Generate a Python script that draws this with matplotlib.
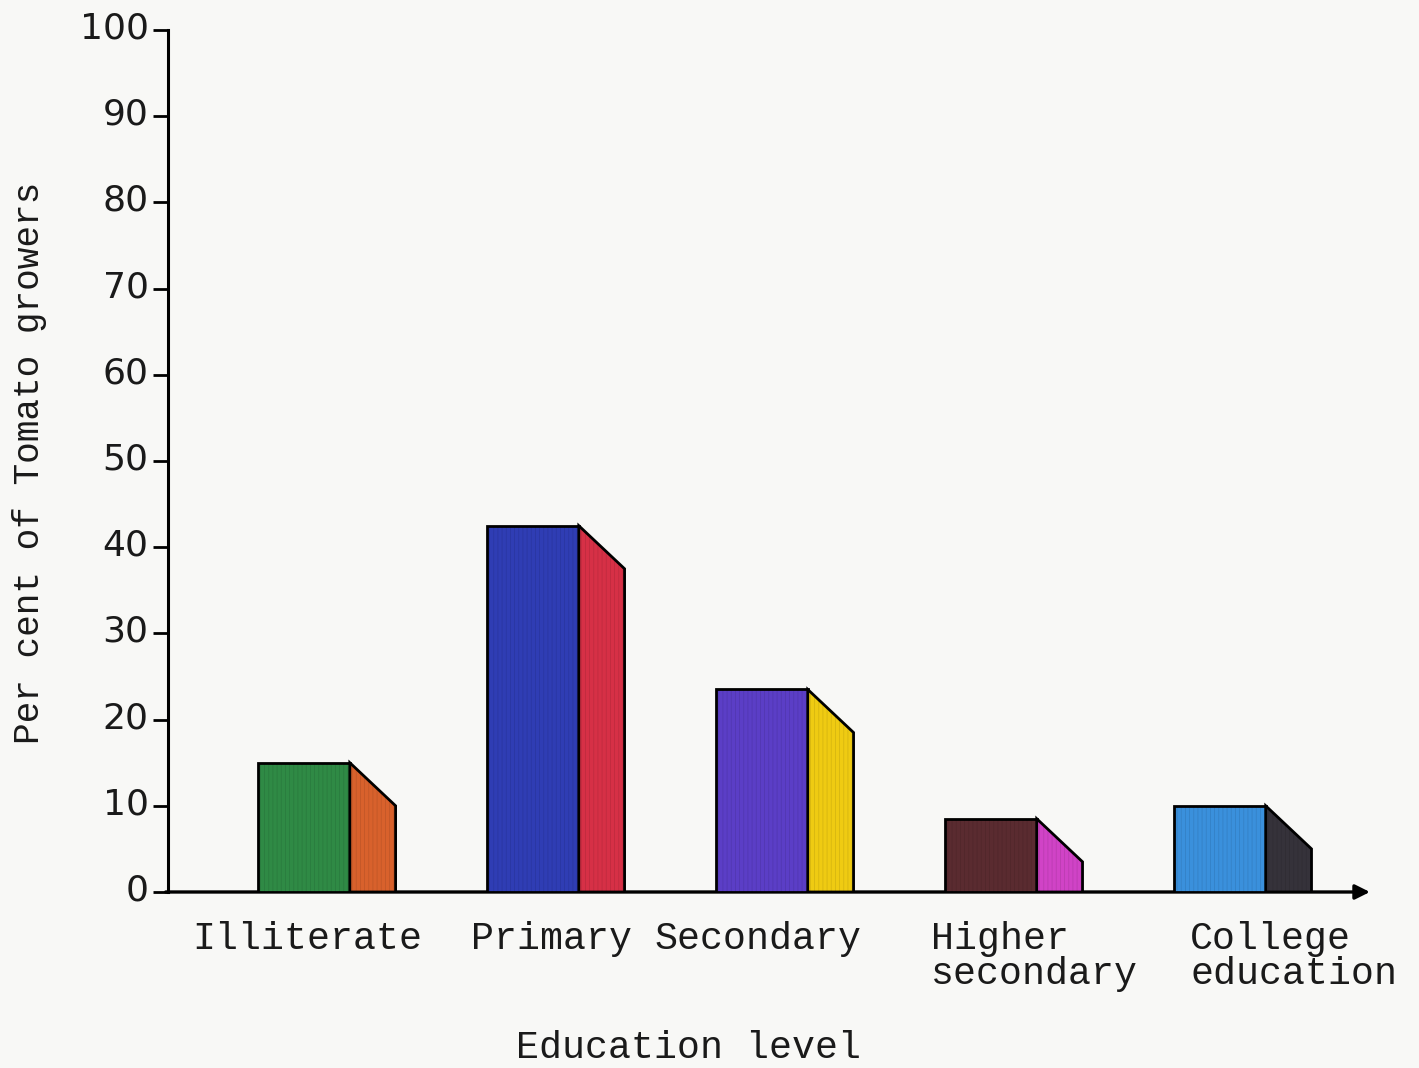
import matplotlib
matplotlib.use("Agg")
import matplotlib.pyplot as plt
from matplotlib.patches import Polygon, Rectangle
from matplotlib.transforms import ScaledTranslation

# Percentage of tomato growers by education level
categories = ["Illiterate", "Primary", "Secondary", "Higher\nsecondary", "College\neducation"]
values = [15.0, 42.5, 23.5, 8.5, 10.0]
y_ticks = [0, 10, 20, 30, 40, 50, 60, 70, 80, 90, 100]

front_colors = ["#2f8a45", "#2f3db4", "#5b3ec6", "#5a2b30", "#3a90dc"]
side_colors = ["#d8612c", "#d63046", "#efcb12", "#d043c6", "#35323a"]

BAR_HALF = 0.2      # half width of the front face
SIDE_W = 0.2        # width of the shaded side face
SIDE_DROP = 5.0     # how far the side face slopes down
label_dx = [-0.49, -0.27, -0.47, -0.26, -0.13]  # left edge of category labels, relative to bar centre

plt.rcParams["hatch.linewidth"] = 0.6
paper = "#f8f8f6"
fig = plt.figure(figsize=(14.19, 10.68), dpi=100, facecolor=paper)
ax = fig.add_axes([0.1184, 0.1648, 0.847, 0.807], facecolor=paper)

mono = "Liberation Mono"
for i, (v, fc, sc) in enumerate(zip(values, front_colors, side_colors)):
    left = i - BAR_HALF
    right = i + BAR_HALF
    side_pts = [(right, 0), (right, v), (right + SIDE_W, v - SIDE_DROP), (right + SIDE_W, 0)]
    ax.add_patch(Rectangle((left, 0), right - left, v, facecolor=fc, edgecolor="black",
                           linewidth=2.0, zorder=3))
    ax.add_patch(Rectangle((left, 0), right - left, v, fill=False, hatch="||||",
                           edgecolor=(0, 0, 0, 0.10), linewidth=0, zorder=3.5))
    ax.add_patch(Polygon(side_pts, closed=True, facecolor=sc, edgecolor="black",
                         linewidth=2.0, zorder=3))
    ax.add_patch(Polygon(side_pts, closed=True, fill=False, hatch="||||",
                         edgecolor=(0, 0, 0, 0.10), linewidth=0, zorder=3.5))
    ax.text(i + label_dx[i], -3.4, categories[i], ha="left", va="top",
            fontsize=27.5, family=mono, color="#1a1a1a", linespacing=0.95)

xmin, xmax = -0.594, 4.655
ax.set_xlim(xmin, xmax)
ax.set_ylim(0, 100)

for s in ["top", "right", "bottom"]:
    ax.spines[s].set_visible(False)
ax.spines["left"].set_linewidth(2.2)
ax.spines["left"].set_bounds(0, 100)

ax.set_xticks([])
ax.set_yticks(y_ticks)
ax.set_yticklabels([str(t) for t in y_ticks])
ax.tick_params(axis="y", direction="out", length=11, width=2.0, pad=3,
               labelsize=26, labelcolor="#1a1a1a")
lift = ScaledTranslation(0, 0.05, fig.dpi_scale_trans)
for lab in ax.get_yticklabels():
    lab.set_family("DejaVu Sans")
    lab.set_transform(lab.get_transform() + lift)

# x axis drawn as an arrow
ax.annotate("", xy=(xmax, 0), xytext=(xmin - 0.01, 0), xycoords="data",
            arrowprops=dict(arrowstyle="-|>", lw=2.4, color="black",
                            mutation_scale=22, shrinkA=0, shrinkB=0),
            annotation_clip=False, zorder=2)

fig.text(0.485, 0.0187, "Education level", ha="center", va="center",
         fontsize=27.5, family=mono, color="#1a1a1a")
fig.text(0.021, 0.567, "Per cent of Tomato growers", ha="center", va="center",
         rotation=90, fontsize=26, family=mono, color="#1a1a1a")

fig.savefig("out.png", dpi=100, facecolor=paper)
